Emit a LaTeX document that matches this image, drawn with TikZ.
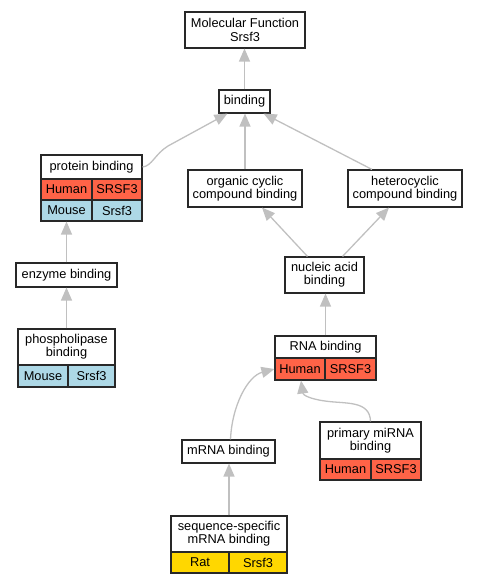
\documentclass[tikz,border=0pt]{standalone}
\usepackage{fontspec}
\setmainfont{Liberation Sans}
\usetikzlibrary{arrows.meta}
\definecolor{edgegray}{RGB}{192,192,192}
\definecolor{boxline}{RGB}{40,40,40}
\definecolor{human}{RGB}{255,99,71}
\definecolor{mouse}{RGB}{173,216,230}
\definecolor{rat}{RGB}{255,215,0}
\tikzset{
  box/.style={draw=boxline, line width=1.1pt, fill=white, inner sep=0pt, align=center,
    font=\fontsize{12.8}{13.3}\selectfont},
  cell/.style={box},
  hum/.style={cell, fill=human},
  mou/.style={cell, fill=mouse},
  ratc/.style={cell, fill=rat},
  edge/.style={draw=edgegray, line width=1.3pt, -{Triangle[length=13pt,width=11pt]}},
}
\newcommand{\bx}[6]{\node[#1, minimum width=#4pt, minimum height=#5pt] (#6) at (#2,#3)}
\begin{document}
\begin{tikzpicture}[x=1pt,y=-1pt]
\useasboundingbox (0,0) rectangle (479,584);
% nodes
\bx{box}{245}{30}{120}{36}{mf} {Molecular Function\\Srsf3};
\bx{box}{244.5}{101.5}{51}{23}{bind} {binding};
\bx{box}{91.5}{167}{101}{24}{prot} {protein binding};
\bx{hum}{66.5}{189.5}{51}{21}{prota} {Human};
\bx{hum}{117}{189.5}{50}{21}{protb} {SRSF3};
\bx{mou}{66.5}{210.5}{51}{21}{protc} {Mouse};
\bx{mou}{117}{210.5}{50}{21}{protd} {Srsf3};
\bx{box}{245}{188.5}{114}{37}{org} {organic cyclic\\compound binding};
\bx{box}{405}{188.5}{114}{37}{het} {heterocyclic\\compound binding};
\bx{box}{66.5}{275}{101}{24}{enz} {enzyme binding};
\bx{box}{324.5}{275}{79}{36}{nuc} {nucleic acid\\binding};
\bx{box}{66.5}{347}{97}{36}{phos} {phospholipase\\binding};
\bx{mou}{43}{376}{50}{22}{phosa} {Mouse};
\bx{mou}{91.5}{376}{47}{22}{phosb} {Srsf3};
\bx{box}{325.5}{347}{101}{22}{rna} {RNA binding};
\bx{hum}{300}{369}{50}{22}{rnaa} {Human};
\bx{hum}{350.5}{369}{51}{22}{rnab} {SRSF3};
\bx{box}{228.5}{451.5}{93}{23}{mrna} {mRNA binding};
\bx{box}{370.5}{440.5}{101}{37}{pri} {primary miRNA\\binding};
\bx{hum}{345.5}{469.5}{51}{21}{pria} {Human};
\bx{hum}{396}{469.5}{50}{21}{prib} {SRSF3};
\bx{box}{229}{534}{116}{36}{seq} {sequence-specific\\mRNA binding};
\bx{ratc}{200}{562.5}{58}{21}{seqa} {Rat};
\bx{ratc}{258}{562.5}{58}{21}{seqb} {Srsf3};
% edges
\draw[edge] (bind.north) -- (bind.north |- mf.south);
\draw[edge] (org.north) -- (org.north |- bind.south);
\draw[edge] (prot.east) .. controls (152,166) and (155,154) .. (168,146) -- ([xshift=9]bind.south west);
\draw[edge] ([xshift=-33]het.north) -- ([xshift=-7]bind.south east);
\draw[edge] (enz.north) -- (protc.south);
\draw[edge] (phos.north) -- (enz.south);
\draw[edge] ([xshift=-17]nuc.north) -- ([xshift=17]org.south);
\draw[edge] ([xshift=18]nuc.north) -- ([xshift=-16]het.south);
\draw[edge] (rna.north) -- (rna.north |- nuc.south);
\draw[edge] (seq.north) -- (seq.north |- mrna.south);
\draw[edge] ([xshift=2]mrna.north) .. controls (232,405) and (248,376) .. (rnaa.west);
\draw[edge] (pri.north) .. controls (370,400) and (345,404) .. (325,401) .. controls (310,399) and (303,395) .. ([xshift=1]rnaa.south);
\end{tikzpicture}
\end{document}
